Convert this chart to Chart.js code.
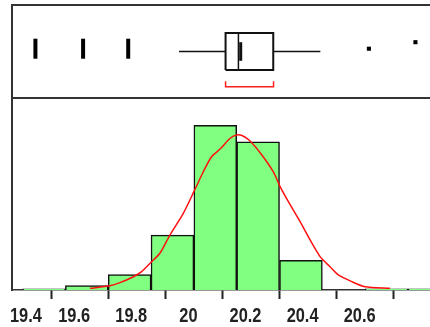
<!DOCTYPE html>
<html>
<head>
<meta charset="utf-8">
<script src="https://cdn.jsdelivr.net/npm/chart.js@4/dist/chart.umd.min.js"></script>
<style>
  html, body { margin: 0; padding: 0; background: #fff; }
  canvas { display: block; }
</style>
</head>
<body>
<canvas id="c" width="430" height="327"></canvas>
<script>
// Histogram bins (lower edges, width 0.15) and their counts
const binLower = [19.40, 19.55, 19.70, 19.85, 20.00, 20.15, 20.30, 20.45, 20.60, 20.75];
const binWidth = 0.15;
const binCounts = [1, 4, 14, 50, 150, 135, 27, 0, 1, 1];

// Fitted normal density, scaled to counts
const curveX = [19.636, 19.706, 19.741, 19.788, 19.817, 19.852, 19.881, 19.916, 19.963, 20.000,
                20.033, 20.062, 20.092, 20.127, 20.150, 20.172, 20.196, 20.238, 20.278, 20.302,
                20.331, 20.372, 20.407, 20.442, 20.477, 20.506, 20.553, 20.599, 20.687];
const curveY = [1.5, 3.9, 6.7, 12.1, 16.7, 25.8, 33.5, 50.1, 69.9, 89.6,
                107.8, 121.5, 128.5, 138.3, 141.3, 140.4, 136.0, 123.1, 107.8, 94.2,
                80.5, 62.3, 45.6, 30.4, 21.2, 13.7, 7.6, 3.0, 1.5];

// Outlier box plot summary
const whiskerLow = 19.948;
const q1 = 20.111;
const median = 20.156;
const meanValue = 20.164;
const q3 = 20.278;
const whiskerHigh = 20.443;
const shortestHalf = [20.111, 20.279];
const lowOutliers = [19.445, 19.612, 19.770];
const highOutliers = [20.613, 20.776];
const highOutlierLevels = [53, 60];

// Axis ticks
const xTickValues = [19.4, 19.6, 19.8, 20.0, 20.2, 20.4, 20.6, 20.8];
const xTickLabels = ['19.4', '19.6', '19.8', '20', '20.2', '20.4', '20.6', ''];

const histData = binLower.map((lo, i) => ({ x: lo + binWidth / 2, y: binCounts[i] }));
const curveData = curveX.map((x, i) => ({ x, y: curveY[i] }));

const seg = (x0, y0, x1, y1) => [{ x: x0, y: y0 }, { x: x1, y: y1 }];
const boxLine = (data, width, color) => ({
  type: 'line', yAxisID: 'yBox', data, borderColor: color || '#111',
  borderWidth: width, pointRadius: 0, fill: false, tension: 0, order: 0
});

// Condensed bold tick labels under the x axis
const tickText = {
  id: 'tickText',
  afterDraw(chart) {
    const s = chart.scales.x;
    const ctx = chart.ctx;
    ctx.save();
    ctx.font = 'bold 21px "Liberation Sans", Arial, sans-serif';
    ctx.fillStyle = '#222';
    ctx.textAlign = 'center';
    ctx.textBaseline = 'alphabetic';
    const squeeze = 0.78;
    xTickValues.forEach((v, i) => {
      const label = xTickLabels[i];
      if (!label) return;
      const w = ctx.measureText(label).width * squeeze;
      let cx = s.getPixelForValue(v) - 5.5;
      cx = Math.max(cx, 10 + w / 2);
      ctx.save();
      ctx.translate(cx, s.top + 32);
      ctx.scale(squeeze, 1);
      ctx.fillText(label, 0, 0);
      ctx.restore();
    });
    ctx.restore();
  }
};

new Chart(document.getElementById('c'), {
  type: 'bar',
  data: {
    datasets: [
      // normal curve
      {
        type: 'line', yAxisID: 'y', data: curveData, borderColor: '#ff1010', borderWidth: 1.5,
        pointRadius: 0, fill: false, tension: 0.25, order: 1
      },
      // histogram
      {
        type: 'bar', yAxisID: 'y', data: histData, backgroundColor: '#80ff80',
        borderColor: '#111', borderWidth: 1.5, barPercentage: 1, categoryPercentage: 1,
        grouped: false, order: 2
      },
      // whiskers
      boxLine(seg(whiskerLow, 50, q1, 50), 1.5),
      boxLine(seg(q3, 50, whiskerHigh, 50), 1.5),
      // box
      boxLine([{ x: q1, y: 30 }, { x: q1, y: 70 }, { x: q3, y: 70 }, { x: q3, y: 30 }, { x: q1, y: 30 }], 2),
      // median and mean
      boxLine(seg(median, 30, median, 70), 1.5),
      boxLine(seg(meanValue, 40, meanValue, 60), 3),
      // shortest half bracket
      boxLine([{ x: shortestHalf[0], y: 18 }, { x: shortestHalf[0], y: 12 }, { x: shortestHalf[1], y: 12 }, { x: shortestHalf[1], y: 18 }], 1.5, '#ff2020'),
      // outliers
      {
        type: 'line', yAxisID: 'yBox', showLine: false,
        data: lowOutliers.map(x => ({ x, y: 53 })),
        pointStyle: 'line', rotation: 90, pointRadius: 10, pointBorderWidth: 4,
        pointBorderColor: '#000', pointBackgroundColor: '#000', order: 0
      },
      {
        type: 'line', yAxisID: 'yBox', showLine: false,
        data: highOutliers.map((x, i) => ({ x, y: highOutlierLevels[i] })),
        pointStyle: 'rect', pointRadius: 2.9, pointBorderWidth: 0,
        pointBackgroundColor: '#000', pointBorderColor: '#000', order: 0
      }
    ]
  },
  options: {
    responsive: false,
    animation: false,
    events: [],
    layout: { autoPadding: false, padding: { left: 12, top: 5, right: 0, bottom: 0 } },
    plugins: { legend: { display: false }, tooltip: { enabled: false } },
    scales: {
      x: {
        type: 'linear', position: 'bottom', min: 19.363, max: 20.827, offset: false,
        afterBuildTicks: s => { s.ticks = xTickValues.map(v => ({ value: v })); },
        afterFit: s => { s.height = 37; s.paddingLeft = 0; s.paddingRight = 0; },
        ticks: { display: false },
        grid: { display: true, drawOnChartArea: false, drawTicks: true, tickLength: 9, tickWidth: 2, tickColor: '#222' },
        border: { display: true, color: '#333', width: 1.5 }
      },
      y: {
        type: 'linear', position: 'left', stack: 'panels', stackWeight: 192,
        min: 0, max: 175, offset: false,
        ticks: { display: false },
        grid: { display: false, drawTicks: false },
        border: { display: true, color: '#333', width: 2 }
      },
      yBox: {
        type: 'linear', position: 'left', stack: 'panels', stackWeight: 93,
        min: 0, max: 100, offset: false,
        afterBuildTicks: s => { s.ticks = [{ value: 0 }, { value: 100 }]; },
        ticks: { display: false },
        grid: { display: true, drawOnChartArea: true, drawTicks: false, color: '#333', lineWidth: 2 },
        border: { display: true, color: '#333', width: 2 }
      }
    }
  },
  plugins: [tickText]
});
</script>
</body>
</html>
